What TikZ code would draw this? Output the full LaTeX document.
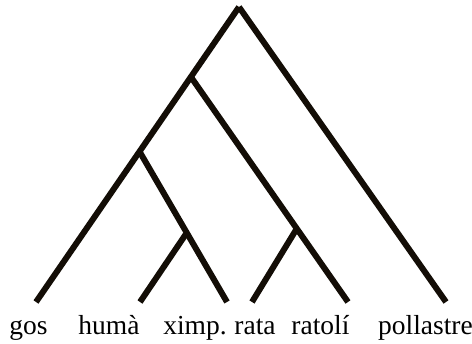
\documentclass[tikz,border=0pt]{standalone}
\usepackage{fontspec}
\setmainfont{Liberation Serif}
\usetikzlibrary{calc}
\begin{document}
\begin{tikzpicture}[x=1pt,y=-1pt,
  branch/.style={line width=6pt,line cap=butt,color=black!90!brown},
  leaflabel/.style={anchor=base,inner sep=0pt,font=\fontsize{27.5}{32}\selectfont}]
\useasboundingbox (0,0) rectangle (472,344);
\coordinate (R) at (239,7);
\coordinate (G) at (36,302);
\coordinate (H) at (140,302);
\coordinate (X) at (227,302);
\coordinate (Ra) at (252,302);
\coordinate (L) at (348,302);
\coordinate (P) at (446,302);
\coordinate (A) at ($(R)!0.237!(G)$);
\coordinate (B) at ($(R)!0.49!(G)$);
\coordinate (C) at ($(B)!0.54!(X)$);
\coordinate (D) at ($(A)!0.674!(L)$);
\draw[branch] (R) -- (G);
\draw[branch] (R) -- (P);
\draw[branch] (A) -- (L);
\draw[branch] (B) -- (X);
\draw[branch] (C) -- (H);
\draw[branch] (D) -- (Ra);
\node[leaflabel] (tg) at (28.5,335) {gos};
\node[leaflabel] (th) at (109,335) {humà};
\node[leaflabel] (tx) at (195,335) {ximp.};
\node[leaflabel] (tr) at (255,335) {rata};
\node[leaflabel] (tl) at (320.5,335) {ratolí};
\node[leaflabel] (tp) at (425.5,335) {pollastre};
\end{tikzpicture}
\end{document}
